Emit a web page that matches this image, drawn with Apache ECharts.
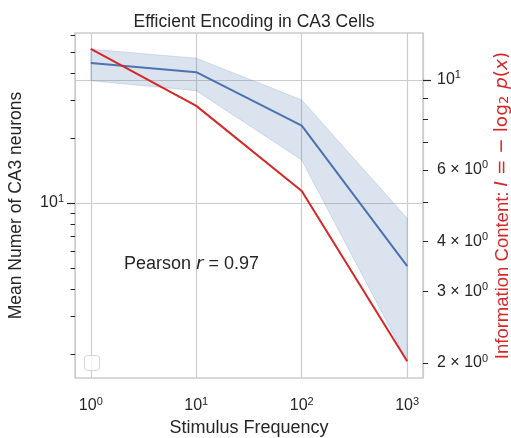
<!DOCTYPE html>
<html><head><meta charset="utf-8">
<script src="https://cdn.jsdelivr.net/npm/echarts@6/dist/echarts.min.js"></script>
<style>html,body{margin:0;padding:0;background:#fff}#c{width:511px;height:438px}</style>
</head><body><div id="c"></div>
<script>
// ---- data ----
const freqs = [1, 10, 100, 1000];
const neuronMean = [44.4, 40.3, 22.8, 5.11];
const neuronUpper = [51.5, 46.8, 30.0, 8.5];
const neuronLower = [36.8, 33.1, 15.8, 1.87];
const infoContent = [11.93, 8.63, 5.32, 2.02];

const xTickValues = [1, 10, 100, 1000];
const leftMajorTicks = [10];
const leftMinorTicks = [2, 3, 4, 5, 6, 7, 8, 9, 20, 30, 40, 50, 60];
const rightMajorTicks = [10];
const rightMinorTicks = [2, 3, 4, 5, 6, 7, 8, 9];
const rightLabelTicks = [2, 3, 4, 6, 10];

const TXT = '#262626';
const RED = '#d62728';
const FONT = 'Liberation Sans';

function powLabel(v) {
  const e = Math.round(Math.log10(v));
  return '{b|10}{s|' + e + '}';
}
function mantLabel(v) {
  const e = Math.floor(Math.log10(v) + 1e-9);
  const m = Math.round(v / Math.pow(10, e));
  if (m === 1) return '{b|10}{s|' + e + '}';
  return '{b|' + m + ' × 10}{s|' + e + '}';
}
const richPow = {
  b: { fontSize: 16, color: TXT, fontFamily: FONT },
  s: { fontSize: 11, color: TXT, fontFamily: FONT, padding: [0, 0, 9, 0] }
};

const chart = echarts.init(document.getElementById('c'), null, { renderer: 'canvas' });

const xMin = Math.pow(10, -0.15), xMax = Math.pow(10, 3.15);
const lMin = 1.55, lMax = 61.2;
const rMin = 1.837, rMax = 13.06;

const option = {
  backgroundColor: '#fff',
  animation: false,
  title: {
    text: 'Efficient Encoding in CA3 Cells',
    left: 249, top: 8, textAlign: 'center',
    textStyle: { fontSize: 17.5, fontWeight: 'normal', color: TXT, fontFamily: FONT }
  },
  grid: {
    left: 75, right: 88, top: 33, bottom: 60,
    outerBoundsMode: 'none', containLabel: false,
    show: true, borderColor: '#cccccc', borderWidth: 1.5, backgroundColor: '#fff'
  },
  xAxis: [{
    type: 'log', min: xMin, max: xMax,
    name: 'Stimulus Frequency', nameLocation: 'middle', nameGap: 41, nameMoveOverlap: false,
    nameTextStyle: { fontSize: 18, color: TXT, fontFamily: FONT },
    axisLine: { show: false },
    axisTick: { show: false },
    axisLabel: { customValues: xTickValues, formatter: powLabel, rich: richPow, margin: 18 },
    splitLine: { show: true, lineStyle: { color: '#cccccc', width: 1.2 } }
  }],
  yAxis: [{
    type: 'log', min: lMin, max: lMax, position: 'left',
    name: 'Mean Numer of CA3 neurons', nameLocation: 'middle', nameGap: 50, nameMoveOverlap: false,
    nameTextStyle: { fontSize: 17.5, color: TXT, fontFamily: FONT },
    axisLine: { show: false },
    axisTick: { show: true, customValues: leftMajorTicks, length: 8, lineStyle: { color: TXT, width: 1.2 } },
    axisLabel: { customValues: leftMajorTicks, formatter: powLabel, rich: richPow, margin: 11 },
    splitLine: { show: true, lineStyle: { color: '#cccccc', width: 1.2 } }
  }, {
    type: 'log', min: rMin, max: rMax, position: 'right',
    name: 'Information Content: {i|I}{m| = \u2212 log}{sub|2}{m| }{i|p}{m|(}{i|x}{m|)}',
    nameLocation: 'middle', nameGap: 70, nameMoveOverlap: false,
    nameTextStyle: {
      fontSize: 18.5, color: RED, fontFamily: FONT,
      rich: {
        i: { fontSize: 18.5, fontStyle: 'italic', color: RED, fontFamily: 'DejaVu Sans' },
        m: { fontSize: 18.5, color: RED, fontFamily: 'DejaVu Sans' },
        sub: { fontSize: 13, color: RED, fontFamily: 'DejaVu Sans', padding: [5, 1, 0, 0] }
      }
    },
    axisLine: { show: false },
    axisTick: { show: true, customValues: rightMajorTicks, length: 8, lineStyle: { color: TXT, width: 1.2 } },
    axisLabel: { customValues: rightLabelTicks, formatter: mantLabel, rich: richPow, margin: 14 },
    splitLine: { show: true, lineStyle: { color: '#cccccc', width: 1.2 } }
  }, {
    type: 'log', min: lMin, max: lMax, position: 'left',
    axisLine: { show: false },
    axisTick: { show: true, customValues: leftMinorTicks, length: 4.5, lineStyle: { color: TXT, width: 1 } },
    axisLabel: { show: false },
    splitLine: { show: false }
  }, {
    type: 'log', min: rMin, max: rMax, position: 'right',
    axisLine: { show: false },
    axisTick: { show: true, customValues: rightMinorTicks, length: 5, lineStyle: { color: TXT, width: 1 } },
    axisLabel: { show: false },
    splitLine: { show: false }
  }],
  series: [{
    type: 'custom',
    xAxisIndex: 0, yAxisIndex: 0,
    data: [[freqs[0], neuronMean[0]]],
    renderItem: function (params, api) {
      const pts = [];
      for (let i = 0; i < freqs.length; i++) pts.push(api.coord([freqs[i], neuronUpper[i]]));
      for (let i = freqs.length - 1; i >= 0; i--) pts.push(api.coord([freqs[i], neuronLower[i]]));
      return {
        type: 'polygon',
        shape: { points: pts },
        style: { fill: 'rgba(76,114,176,0.2)', stroke: 'rgba(76,114,176,0.2)', lineWidth: 1 }
      };
    },
    silent: true, z: 1
  }, {
    type: 'line', xAxisIndex: 0, yAxisIndex: 0,
    data: freqs.map((f, i) => [f, neuronMean[i]]),
    symbol: 'none', lineStyle: { color: '#4c72b0', width: 2 }, itemStyle: { color: '#4c72b0' }, z: 3
  }, {
    type: 'line', xAxisIndex: 0, yAxisIndex: 1,
    data: freqs.map((f, i) => [f, infoContent[i]]),
    symbol: 'none', lineStyle: { color: RED, width: 2 }, itemStyle: { color: RED }, z: 4
  }],
  graphic: [{
    type: 'text', left: 124, top: 255, z: 10,
    style: {
      text: 'Pearson {i|r} = 0.97',
      fontSize: 18, fill: TXT, fontFamily: FONT,
      rich: { i: { fontSize: 18, fontStyle: 'italic', fill: TXT, fontFamily: 'DejaVu Sans' } }
    }
  }, {
    type: 'rect', left: 84, top: 355, z: 10,
    shape: { width: 15, height: 15, r: 3 },
    style: { fill: 'rgba(255,255,255,0.8)', stroke: '#d5d5d5', lineWidth: 1 }
  }]
};
chart.setOption(option);
</script>
</body></html>
